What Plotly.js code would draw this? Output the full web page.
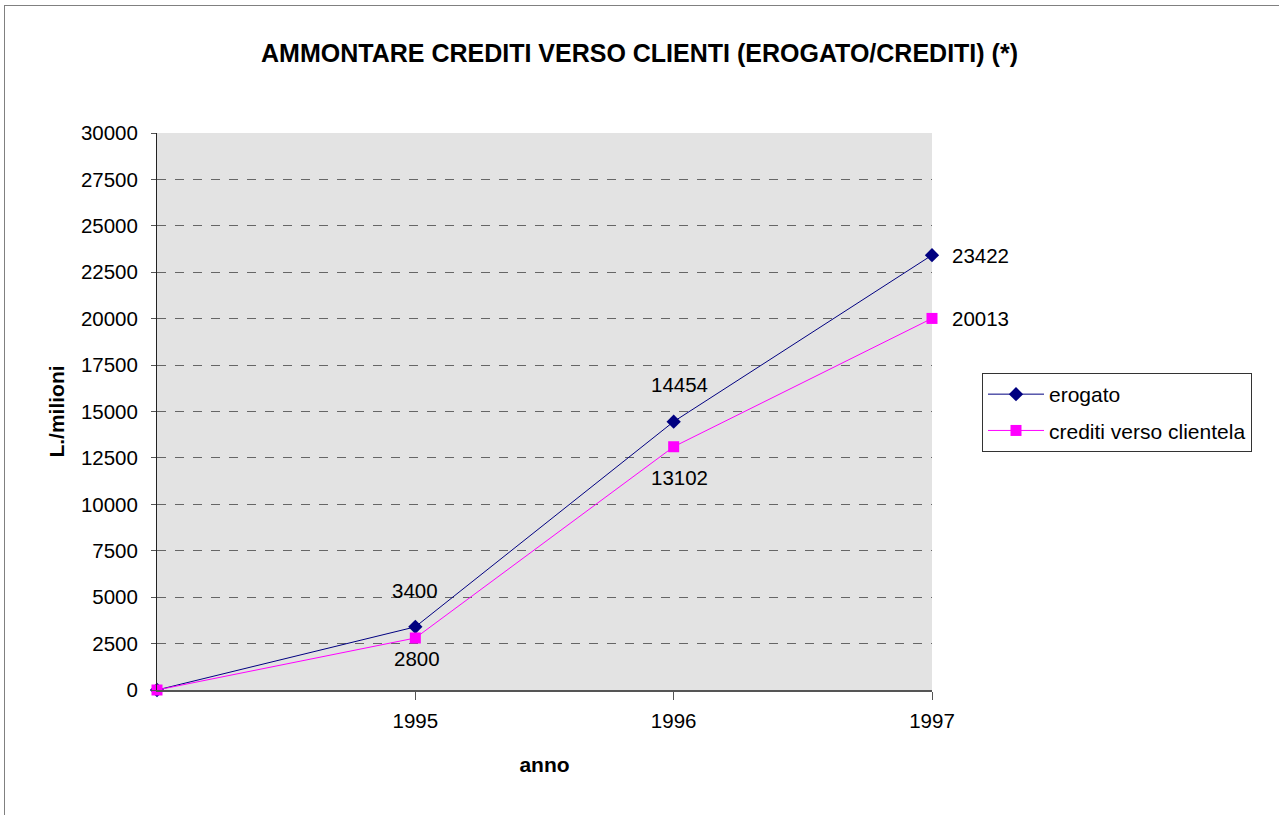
<!DOCTYPE html>
<html>
<head>
<meta charset="utf-8">
<script src="https://cdn.plot.ly/plotly-3.0.1.min.js"></script>
<style>
  html, body { margin: 0; padding: 0; background: #fff; }
  #frame { position: absolute; left: 4px; top: 5px; width: 1275px; height: 810px;
           border-left: 1px solid #808080; border-top: 1px solid #808080; pointer-events: none; }
  #chart { position: absolute; left: 0; top: 0; width: 1279px; height: 815px; }
</style>
</head>
<body>
<div id="chart"></div>
<div id="frame"></div>
<script>
// Data
const categories = ['', '1995', '1996', '1997'];
const erogato = [0, 3400, 14454, 23422];
const creditiVersoClientela = [0, 2800, 13102, 20013];
const seriesNames = ['erogato', 'crediti verso clientela'];
const yTicks = [0, 2500, 5000, 7500, 10000, 12500, 15000, 17500, 20000, 22500, 25000, 27500, 30000];

const xIdx = categories.map((c, i) => i);
const xTickVals = xIdx.filter(i => categories[i] !== '');
const xTickText = xTickVals.map(i => categories[i]);
const FONT = 'Liberation Sans, Arial, sans-serif';
const FS = 20.5;

const traces = [
  {
    x: xIdx, y: erogato, name: seriesNames[0], type: 'scatter', mode: 'lines+markers',
    legendgroup: 'a',
    line: {color: '#000080', width: 1},
    marker: {symbol: 'diamond', size: 11, color: '#000080'},
    cliponaxis: false, hoverinfo: 'skip'
  },
  {
    x: xIdx, y: creditiVersoClientela, name: seriesNames[1], type: 'scatter', mode: 'lines+markers',
    legendgroup: 'b',
    line: {color: '#FF00FF', width: 1},
    marker: {symbol: 'square', size: 11, color: '#FF00FF'},
    cliponaxis: false, hoverinfo: 'skip'
  }
];

// label placement (style only): [xanchor, xshift, yshift]
const erogatoPos = [null, ['center', 0, 36], ['center', 6, 37], ['left', 18, 0]];
const creditiPos = [null, ['center', 2, -20], ['center', 6, -31], ['left', 18, 0]];
const annotations = [];
function addLabels(vals, pos) {
  vals.forEach((v, i) => {
    if (!pos[i]) return;
    annotations.push({
      x: xIdx[i], y: v, xref: 'x', yref: 'y', text: String(v), showarrow: false,
      xanchor: pos[i][0], yanchor: 'middle', xshift: pos[i][1], yshift: pos[i][2],
      font: {family: FONT, size: FS, color: '#000'}
    });
  });
}
addLabels(erogato, erogatoPos);
addLabels(creditiVersoClientela, creditiPos);

const layout = {
  width: 1279, height: 815,
  margin: {l: 157, r: 347, t: 133, b: 125},
  paper_bgcolor: 'rgba(0,0,0,0)',
  plot_bgcolor: '#E3E3E3',
  font: {family: FONT, size: FS, color: '#000'},
  title: {
    text: '<b>AMMONTARE CREDITI VERSO CLIENTI (EROGATO/CREDITI) (*)</b>',
    x: 0.5, xref: 'container', xanchor: 'center',
    y: 1 - 53/815, yref: 'container', yanchor: 'middle',
    font: {family: FONT, size: 25, color: '#000'}
  },
  xaxis: {
    range: [0, 3], tickmode: 'array', tickvals: xTickVals, ticktext: xTickText,
    showgrid: false, zeroline: false,
    showline: true, linecolor: '#555', linewidth: 2,
    ticks: 'outside', ticklen: 8, tickcolor: '#555', tickwidth: 1,
    ticklabelstandoff: 3,
    tickfont: {family: FONT, size: FS, color: '#000'},
    title: {text: '<b>anno</b>', font: {family: FONT, size: 21, color: '#000'}, standoff: 27}
  },
  yaxis: {
    range: [0, 30000], tickmode: 'array', tickvals: yTicks, ticktext: yTicks.map(String),
    showgrid: true, gridcolor: '#666', griddash: 'dash', gridwidth: 1,
    zeroline: false,
    showline: true, linecolor: '#222', linewidth: 1,
    ticks: 'outside', ticklen: 5, tickcolor: '#555',
    ticklabelstandoff: 9,
    tickfont: {family: FONT, size: FS, color: '#000'},
    title: {text: '<b>L./milioni</b>', font: {family: FONT, size: 21, color: '#000'}, standoff: 10}
  },
  showlegend: true,
  legend: {
    x: (982 - 157) / 775, xanchor: 'left',
    y: (690 - 373) / 557, yanchor: 'top',
    bgcolor: '#fff', bordercolor: '#333', borderwidth: 1,
    font: {family: FONT, size: 21, color: '#000'},
    tracegroupgap: 6, itemwidth: 56
  },
  annotations: annotations
};

Plotly.newPlot('chart', traces, layout, {displayModeBar: false, staticPlot: true});
</script>
</body>
</html>
